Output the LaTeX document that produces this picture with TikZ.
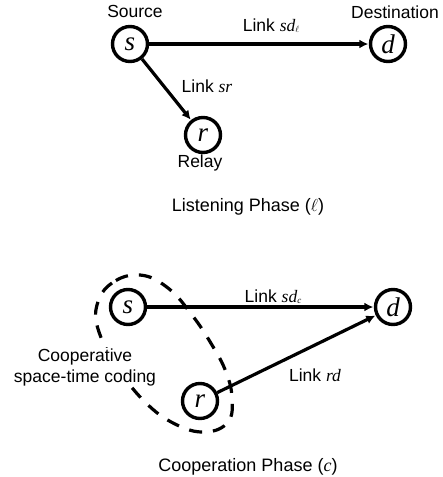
\documentclass[tikz,border=0pt]{standalone}
\usepackage{fontspec}
\setmainfont{Liberation Sans}
\newfontfamily\tms{Liberation Serif}
\usetikzlibrary{arrows.meta,calc}
\tikzset{
    term/.style = {draw, circle, line width=3.4pt, minimum size=35pt, inner sep=0pt,
        font=\fontsize{27}{28}\selectfont\tms\itshape},
    lbl/.style = {font=\fontsize{17.5}{21}\selectfont, inner sep=0pt, align=center},
    phase/.style = {lbl, font=\fontsize{18}{21}\selectfont},
    link/.style = {draw, line width=3.2pt, -{Latex[length=9pt,width=9pt]}, shorten >=0.5pt},
    group/.style = {draw, line width=3.2pt, dash pattern=on 13pt off 11pt}
}
\def\var#1{{\tms\itshape #1}}
\def\sub#1{\raisebox{-1pt}{\fontsize{9}{10}\selectfont #1}}

\begin{document}
\begin{tikzpicture}[x=1pt, y=-1pt]
    \useasboundingbox (0,0) rectangle (443,477);
    % listening phase
    \node [term] (s1) at (130,44) {s};
    \node [term] (d1) at (388,44) {d};
    \node [term] (r1) at (203,135) {r};
    \node [lbl] (src) at (135,11) {Source};
    \node [lbl] (dst) at (395,12) {Destination};
    \node [lbl] (rly) at (200,163) {Relay};
    \draw [link] (s1) -- (d1);
    \draw [link] (s1) -- (r1);
    \node [lbl] (lsd1) at (271,26) {Link \var{sd}\sub{$\ell$}};
    \node [lbl] (lsr) at (207,86) {Link \var{sr}};
    \node [phase] (ph1) at (248,207) {Listening Phase ($\ell$)};
    % cooperation phase
    \node [term] (s2) at (128,307) {s};
    \node [term] (d2) at (393,307) {d};
    \node [term] (r2) at (200,401) {r};
    \draw [group] plot [smooth cycle, tension=0.7] coordinates {
        (140,275) (112,283) (97,305) (99,332) (118,368) (145,402) (175,424)
        (205,432) (228,422) (232,398) (226,372) (212,345) (192,315) (168,288)};
    \draw [link] (s2) -- (d2);
    \draw [link] (r2) -- (d2);
    \node [lbl] (lsd2) at (273,297) {Link \var{sd}\sub{\var{c}}};
    \node [lbl] (lrd) at (315,375) {Link \var{rd}};
    \node [lbl, fill=white] (coop) at (85,367) {Cooperative\\space-time coding};
    \node [phase] (ph2) at (248,467) {Cooperation Phase (\var{c})};
\end{tikzpicture}
\end{document}
